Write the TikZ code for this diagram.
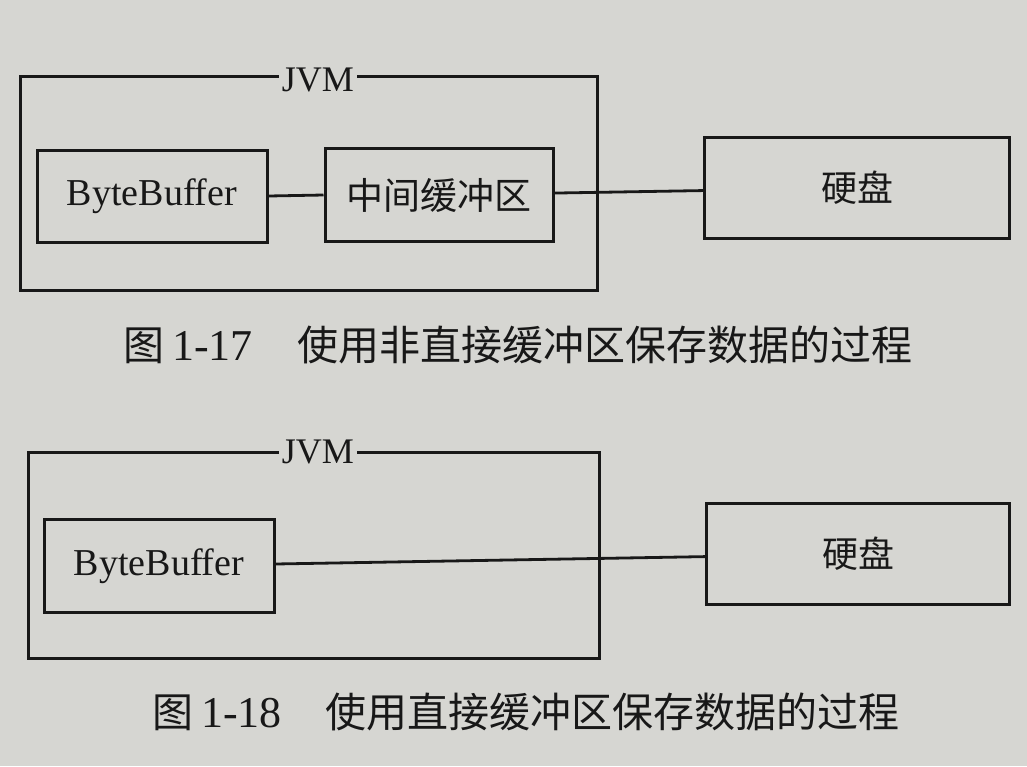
\documentclass[tikz,border=0pt]{standalone}
\usepackage{fontspec}
\setmainfont{Liberation Serif}
\newfontfamily\cjk{Noto Sans CJK SC}
\definecolor{paper}{RGB}{214,214,210}
\definecolor{ink}{RGB}{24,24,24}
\begin{document}
\begin{tikzpicture}[x=1pt,y=-1pt,
  box/.style={draw=ink,line width=3pt,fill=none,inner sep=0pt,text=ink},
  conn/.style={draw=ink,line width=2.8pt},
  frame/.style={draw=ink,line width=3pt},
  lbl/.style={fill=paper,inner sep=3pt,text=ink,font=\fontsize{36}{40}\selectfont},
  captext/.style={anchor=west,inner sep=0pt,text=ink,font=\fontsize{41}{46}\selectfont}]
\fill[paper] (0,0) rectangle (1027,766);
\useasboundingbox (0,0) rectangle (1027,766);
% ---- top figure ----
\draw[frame] (20,76) rectangle (597,290);
\node[lbl] (jvm1) at (318,80) {JVM};
\node[box,minimum width=230pt,minimum height=92pt,font=\fontsize{38}{40}\selectfont] (bb1) at (152,196) {ByteBuffer};
\node[box,minimum width=228pt,minimum height=93pt,font=\cjk\fontsize{37}{40}\selectfont] (mid) at (439,195) {中间缓冲区};
\node[box,minimum width=305pt,minimum height=101pt,font=\cjk\fontsize{36}{40}\selectfont] (disk1) at (857,188) {硬盘};
\draw[conn] (bb1.east) -- (mid.west);
\draw[conn] (mid) -- (disk1);
\node[captext] (cap1) at (123,345) {{\cjk 图}\hspace{8pt}{\fontsize{44}{46}\selectfont 1-17}\hspace{45pt}{\cjk 使用非直接缓冲区保存数据的过程}};
% ---- bottom figure ----
\draw[frame] (28,452) rectangle (599,658);
\node[lbl] (jvm2) at (318,452) {JVM};
\node[box,minimum width=230pt,minimum height=93pt,font=\fontsize{38}{40}\selectfont] (bb2) at (159,566) {ByteBuffer};
\node[box,minimum width=303pt,minimum height=101pt,font=\cjk\fontsize{36}{40}\selectfont] (disk2) at (858,554) {硬盘};
\draw[conn] (bb2) -- (disk2);
\node[captext] (cap2) at (152,712) {{\cjk 图}\hspace{8pt}{\fontsize{44}{46}\selectfont 1-18}\hspace{44pt}{\cjk 使用直接缓冲区保存数据的过程}};
\end{tikzpicture}
\end{document}
